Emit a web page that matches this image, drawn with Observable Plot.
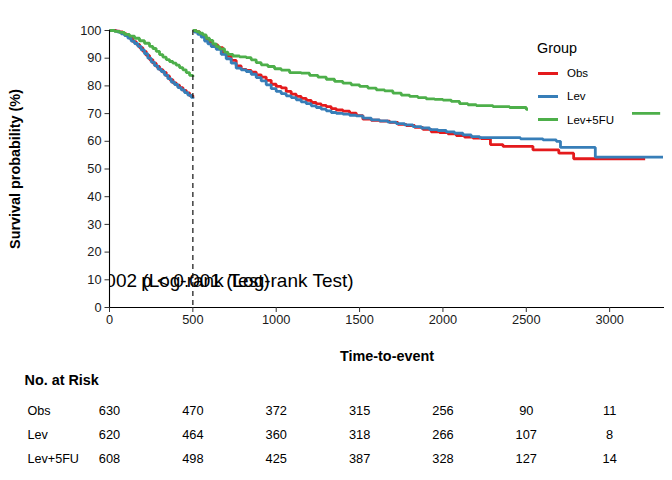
<!DOCTYPE html>
<html><head><meta charset="utf-8">
<script src="https://cdn.jsdelivr.net/npm/d3@7"></script>
<script src="https://cdn.jsdelivr.net/npm/@observablehq/plot@0.6"></script>
<style>
body{margin:0;background:#fff;font-family:"Liberation Sans",Arial,sans-serif}
#chart{position:relative;width:672px;height:480px;overflow:hidden}
#chart svg{display:block}
.legend{position:absolute;left:528px;top:33px;width:104px;height:98px;background:#fff;font-family:"Liberation Sans",Arial,sans-serif;color:#000}
.legend .title{position:absolute;left:9px;top:6px;font-size:14.4px;line-height:18px}
.legend .item{position:absolute;left:10px;height:14px;font-size:11.5px;line-height:14px}
.legend .sw{position:absolute;left:0;top:5.5px;width:20px;height:3px}
.legend .lab{position:absolute;left:29px;top:0;white-space:nowrap}
</style>
</head><body><div id="chart"></div><script>
// ---- data ----
const groups = ["Obs", "Lev", "Lev+5FU"];
const colors = ["#E41A1C", "#377EB8", "#4DAF4A"];
const landmark = 500;
const xMax = 3329;
const xTicks = [0, 500, 1000, 1500, 2000, 2500, 3000];
const yTicks = [0, 10, 20, 30, 40, 50, 60, 70, 80, 90, 100];

// Kaplan-Meier estimates (time, survival %) : first segment 0-500, landmark segment from 500
const obs1 = [[0,100],[40,99.8],[60,99.5],[80,98.9],[100,98.2],[120,97.2],[140,96],[160,95],[180,93.8],[200,92.5],[220,91],[240,89.5],[260,88.2],[280,87],[300,85.9],[320,84.9],[340,83.6],[360,82.3],[380,81.1],[400,80.3],[420,79.4],[440,78.4],[460,77.5],[480,76.5],[500,75.6]];
const lev1 = [[0,100],[30,99.8],[50,99.4],[70,98.8],[90,98.2],[110,97.3],[130,96.2],[150,95.3],[170,94.3],[190,93],[210,91.6],[230,90],[250,88.6],[270,87.3],[290,86.1],[310,85.2],[330,83.9],[350,82.6],[370,81.4],[390,80.5],[410,79.4],[430,78.6],[450,77.6],[470,76.7],[490,75.9],[500,75.4]];
const lev5fu1 = [[0,100],[30,99.7],[60,99.3],[90,98.6],[120,98],[150,97.2],[180,96.3],[210,95.4],[240,94.3],[260,93.5],[280,92.5],[300,91.3],[320,90.4],[340,89.5],[360,88.8],[380,88.2],[400,87.5],[420,86.6],[440,85.8],[460,84.8],[480,83.8],[500,83.2]];
const obs2 = [[500,100],[520,99.6],[540,98.8],[560,98],[580,96.8],[600,95.6],[620,94.8],[650,93.8],[680,92],[700,90.8],[730,89.2],[760,87.2],[790,86],[820,85.6],[850,85],[880,84],[910,83.2],[940,82],[970,80.6],[1000,79.8],[1030,79.3],[1060,78],[1090,77],[1120,76.2],[1150,75.5],[1180,74.8],[1210,74],[1240,73.5],[1270,73],[1300,72.5],[1330,71.8],[1360,71.3],[1400,70.9],[1440,70.2],[1480,69.3],[1520,68],[1570,67.6],[1620,67.3],[1680,66.8],[1730,66.1],[1780,65.7],[1830,65],[1880,64.3],[1930,63.4],[1980,63.1],[2030,62.7],[2080,62.1],[2130,61.5],[2180,61.2],[2230,61],[2285,58.8],[2360,58.2],[2540,56.9],[2695,55.7],[2784,53.7],[3213,53.7]];
const lev2 = [[500,100],[510,99.4],[530,98.6],[550,97.6],[570,96.2],[590,95.2],[610,94.2],[640,93.2],[670,91.4],[700,89.8],[730,88.2],[760,86.4],[790,85.8],[820,85.2],[850,84.2],[880,83],[910,81.8],[940,80.4],[970,79],[1000,78],[1030,77.2],[1060,76.4],[1090,75.8],[1120,75],[1150,74.2],[1180,73.6],[1210,72.8],[1240,72.2],[1270,71.6],[1300,71],[1330,70.4],[1360,70.1],[1400,69.8],[1440,69.4],[1480,69.2],[1520,68.4],[1570,67.7],[1620,67.4],[1670,66.9],[1720,66.4],[1770,65.9],[1820,65.3],[1870,64.8],[1920,64.2],[1970,63.9],[2020,63.4],[2070,62.9],[2120,62.3],[2170,61.7],[2220,61.3],[2465,60.9],[2600,60.5],[2680,60],[2705,57.8],[2914,54.3],[3320,54.3]];
const lev5fu2 = [[500,100],[520,99.6],[540,99],[560,98.4],[580,97.2],[600,96.4],[620,95.2],[640,94.2],[660,93.4],[690,92.2],[710,91.4],[740,90.8],[780,90.5],[820,90.2],[850,89.4],[880,88.4],[910,87.6],[950,87],[990,86.2],[1030,85.7],[1080,84.8],[1150,84.6],[1200,83.8],[1250,83.2],[1300,82.4],[1350,81.6],[1400,81],[1450,80.4],[1500,79.8],[1550,79.2],[1600,78.6],[1650,78.2],[1700,77.4],[1750,76.7],[1800,76.2],[1850,75.8],[1900,75.3],[1950,75.1],[2000,74.9],[2050,74.4],[2100,73.6],[2150,73.2],[2200,72.9],[2300,72.5],[2400,72.2],[2500,71.5],[2700,70.1],[3303,70.1]];

// numbers at risk
const riskTimes = [0, 500, 1000, 1500, 2000, 2500, 3000];
const riskObs = [630, 470, 372, 315, 256, 90, 11];
const riskLev = [620, 464, 360, 318, 266, 107, 8];
const riskLev5fu = [608, 498, 425, 387, 328, 127, 14];

// p-value annotations
const pvalLabels = ["p = 0.002 (Log-rank Test)", "p < 0.001 (Log-rank Test)"];
const pvalTimes = [324, 827];
const pvalSurv = 10;

// ---- build tables ----
const segs = [
  ["Obs", 1, obs1], ["Lev", 1, lev1], ["Lev+5FU", 1, lev5fu1],
  ["Obs", 2, obs2], ["Lev", 2, lev2], ["Lev+5FU", 2, lev5fu2]
];
const curveRows = segs.flatMap(([g, s, pts]) => pts.map(([t, v]) => ({group: g, seg: g + "-" + s, time: t, surv: v})));
const riskBy = {"Obs": riskObs, "Lev": riskLev, "Lev+5FU": riskLev5fu};
const riskRows = groups.flatMap(g => riskTimes.map((t, j) => ({group: g, time: t, n: riskBy[g][j]})));

const font = '"Liberation Sans", Arial, sans-serif';
const ink = "#1a1a1a";

const main = Plot.plot({
  width: 672, height: 365,
  marginTop: 30, marginBottom: 58, marginLeft: 109, marginRight: 8,
  style: {fontFamily: font, fontSize: "12.8px", color: ink, background: "white"},
  x: {domain: [0, xMax]},
  y: {domain: [0, 100]},
  color: {domain: groups, range: colors},
  marks: [
    Plot.line(curveRows, {x: "time", y: "surv", z: "seg", stroke: "group", curve: "step-after", strokeWidth: 2.8, strokeLinejoin: "miter", strokeLinecap: "butt"}),
    Plot.ruleX([landmark], {stroke: "#222", strokeWidth: 1.3, strokeDasharray: "5,4"}),
    Plot.ruleX([0], {stroke: "#000", strokeWidth: 1.1}),
    Plot.ruleY([0], {stroke: "#000", strokeWidth: 1.1}),
    Plot.axisY({ticks: yTicks, tickSize: 4.5, tickPadding: 3.5, label: null, fontSize: 12.8, fill: ink, stroke: "#333"}),
    Plot.axisX({ticks: xTicks, tickSize: 5, tickPadding: 2, label: null, tickFormat: d => String(d), fontSize: 12.8, fill: ink, stroke: "#333"}),
    Plot.text(pvalLabels, {x: (d, i) => pvalTimes[i], y: () => pvalSurv, text: d => d, fontSize: 19, fill: "#000", dy: 1, clip: true}),
    Plot.text(["Survival probability (%)"], {frameAnchor: "left", lineAnchor: "middle", textAnchor: "middle", rotate: -90, dx: -94, fontSize: 14.4, fontWeight: "bold", fill: "#000"}),
    Plot.text(["Time-to-event"], {frameAnchor: "bottom", lineAnchor: "middle", dy: 49, fontSize: 14.4, fontWeight: "bold", fill: "#000"})
  ]
});

const table = Plot.plot({
  width: 672, height: 115,
  marginTop: 0, marginBottom: 0, marginLeft: 109, marginRight: 8,
  style: {fontFamily: font, fontSize: "12.8px", color: "#000", background: "white"},
  x: {domain: [0, xMax], axis: null},
  y: {type: "point", domain: groups, range: [44, 93], padding: 0, axis: null},
  marks: [
    Plot.text(["No. at Risk"], {frameAnchor: "top-left", lineAnchor: "middle", textAnchor: "start", dx: -85, dy: 15, fontSize: 14.4, fontWeight: "bold", fill: "#000"}),
    Plot.text(groups, {y: d => d, frameAnchor: "left", textAnchor: "start", dx: -82, fontSize: 12.6, fill: "#000"}),
    Plot.text(riskRows, {x: "time", y: "group", text: "n", fontSize: 12.8, fill: "#000"})
  ]
});

const chart = document.getElementById("chart");
chart.appendChild(main);
chart.appendChild(table);

// legend (overlaid on the panel, top-right)
const legend = document.createElement("div");
legend.className = "legend";
const lt = document.createElement("div");
lt.className = "title"; lt.textContent = "Group";
legend.appendChild(lt);
groups.forEach((g, i) => {
  const it = document.createElement("div");
  it.className = "item";
  it.style.top = (33 + i * 23.3) + "px";
  const sw = document.createElement("div");
  sw.className = "sw"; sw.style.background = colors[i];
  const lab = document.createElement("div");
  lab.className = "lab"; lab.textContent = g;
  it.appendChild(sw); it.appendChild(lab);
  legend.appendChild(it);
});
chart.appendChild(legend);
</script></body></html>
